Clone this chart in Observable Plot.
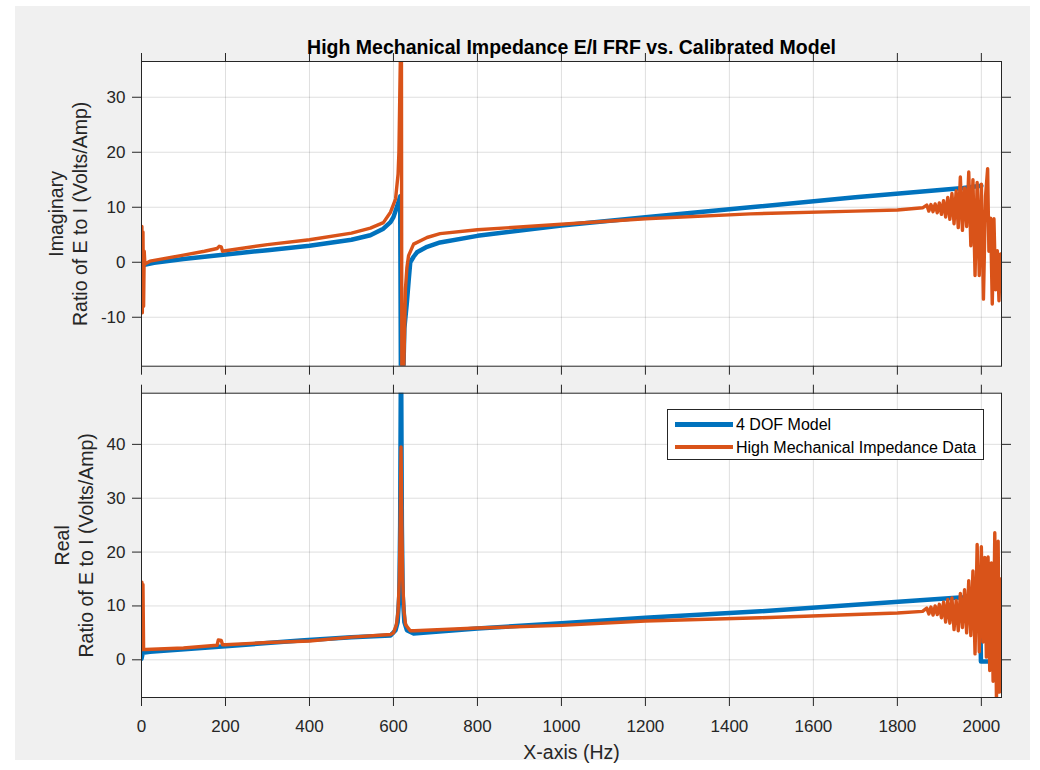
<!DOCTYPE html>
<html>
<head>
<meta charset="utf-8">
<script src="https://cdn.jsdelivr.net/npm/d3@7"></script>
<script src="https://cdn.jsdelivr.net/npm/@observablehq/plot@0.6"></script>
<style>
  html, body { margin: 0; padding: 0; background: #ffffff; }
  body { width: 1040px; height: 770px; position: relative; overflow: hidden;
         font-family: "Liberation Sans", Arial, Helvetica, sans-serif; }
  #fig { position: absolute; left: 15px; top: 6px; width: 1015px; height: 754px; background: #f0f0f0; }
  #top, #bot { position: absolute; left: 0; }
  #top { top: 0; }
  #bot { top: 380px; }
  #legend { position: absolute; left: 666.7px; top: 409.3px; width: 315.3px; height: 48.7px;
            background: #fff; border: 1px solid #262626; }
  .lg-row { position: absolute; left: 0; height: 16px; width: 100%; }
  .lg-sw { position: absolute; left: 7.3px; width: 57.7px; height: 4.5px; }
  .lg-tx { position: absolute; left: 68.3px; top: 0; font-size: 16px; line-height: 16px; color: #000; white-space: nowrap; }
</style>
</head>
<body>
<div id="fig"></div>
<div id="top"></div>
<div id="bot"></div>
<div id="legend"></div>
<script>
// ---------------- data ----------------
const titleText = "High Mechanical Impedance E/I FRF vs. Calibrated Model";
const seriesNames = ["4 DOF Model", "High Mechanical Impedance Data"];
const seriesColors = ["#0072BD", "#D95319"];

const xTicks = [0, 200, 400, 600, 800, 1000, 1200, 1400, 1600, 1800, 2000];
const imagTicks = [-10, 0, 10, 20, 30];
const realTicks = [0, 10, 20, 30, 40];

// Imaginary part, 4 DOF model
const imagModelHz = [0, 10, 30, 100, 200, 300, 400, 500, 545, 576, 593, 600, 608, 613, 616,
  618, 622, 626, 632, 636, 640, 648, 656, 680, 711, 800, 1000, 1200, 1450, 1700, 1957, 2000];
const imagModel = [-0.6, -0.4, -0.1, 0.6, 1.4, 2.2, 3.0, 4.1, 4.9, 6.1, 7.3, 8.2, 10.0, 11.2, 12.0,
  -25, -25, -12, -7.3, -3.5, 0, 1.0, 1.8, 2.8, 3.6, 4.8, 6.7, 8.2, 10.0, 11.8, 13.5, 13.9];

// Imaginary part, measured data
const imagDataHz = [0, 1, 2, 3.5, 5, 6.5, 8, 20, 50, 100, 150, 180, 185, 190, 193, 200,
  300, 400, 500, 545, 576, 593, 605, 611, 613, 615, 617, 619, 620, 623, 625, 628.6, 632, 636,
  648, 680, 711, 800, 1000, 1200, 1450, 1700, 1800, 1860,
  1870, 1875, 1880, 1885, 1890, 1895, 1900, 1905, 1910, 1915, 1920, 1925, 1930, 1935, 1940,
  1945, 1950, 1955, 1960, 1965, 1970, 1975, 1980, 1985, 1990, 1995, 2000,
  2005, 2010, 2015, 2018, 2022, 2026, 2030, 2034, 2038, 2042, 2046, 2048];
const imagData = [0, 6.5, -9.2, 5.5, -8, 2, -0.3, 0.2, 0.6, 1.3, 2.0, 2.5, 2.9, 2.8, 2.0, 2.1,
  3.2, 4.1, 5.3, 6.2, 7.2, 9.1, 11.5, 16, 20, 30, 40, 40, -25, -25, -18, -4.8, -1.0, 1.2,
  3.3, 4.5, 5.2, 5.9, 6.9, 7.9, 8.8, 9.3, 9.5, 9.9,
  10.4, 9.3, 10.5, 9.2, 10.6, 9.0, 10.8, 8.7, 11.2, 8.2, 11.8, 7.8, 12.5, 7.0, 13.0,
  6.3, 15.5, 5.8, 13.5, 6.5, 16.4, 3.0, 15.0, -2.4, 14.5, -2.4, 14.2,
  -6.7, 12.0, 17.0, 2.0, 8.0, -7.6, 7.9, -5, 2.1, -7.0, 1.5, -3];

// Real part, 4 DOF model
const realModelHz = [0, 3, 20, 200, 379, 500, 593, 605, 610, 614, 616, 618, 620, 622, 626,
  632, 648, 800, 1000, 1200, 1474, 1700, 1957, 1997, 1999, 2022];
const realModel = [0.2, 1.3, 1.5, 2.5, 3.6, 4.2, 4.5, 5.5, 7, 12, 25, 60, 25, 12, 7,
  5.5, 4.9, 5.8, 6.8, 7.8, 9.0, 10.2, 11.6, 11.9, -0.3, -0.3];

// Real part, measured data
const realDataHz = [0, 1, 2, 3.5, 5, 10, 100, 180, 183, 190, 193, 200, 300, 400, 500, 593,
  600, 607, 611, 614, 616, 618, 620, 622, 625, 629, 640, 650, 800, 1000, 1200, 1474, 1800, 1860,
  1870, 1875, 1880, 1885, 1890, 1895, 1900, 1905, 1910, 1915, 1920, 1925, 1930, 1935, 1940,
  1945, 1950, 1955, 1960, 1965, 1970, 1975, 1980, 1985, 1990, 1995, 2000,
  2004, 2008, 2012, 2016, 2020, 2024, 2028, 2032, 2036, 2040, 2043, 2046, 2048];
const realData = [1.8, 14.4, 2.0, 14.0, 1.9, 1.9, 2.2, 2.7, 3.7, 3.6, 2.8, 2.8, 3.2, 3.5, 4.2, 4.7,
  5.0, 6.5, 9, 15, 25, 39.5, 25, 15, 9, 6.5, 5.4, 5.4, 5.9, 6.4, 7.2, 7.8, 8.7, 9.0,
  9.6, 8.5, 9.8, 8.3, 10.0, 8.4, 10.3, 7.8, 10.7, 7.0, 11.2, 6.8, 11.5, 5.6, 11.0,
  5.4, 12.3, 6.0, 13.0, 5.0, 14.7, 4.5, 16.5, 1.1, 21.4, 1.5, 21.0,
  3.3, 19.0, 0.5, 19.1, -2.0, 18.0, -4.0, 23.6, -7.5, 22.0, -6.0, 15.0, 5.0];

const xLabel = "X-axis (Hz)";
const imagLabel = ["Imaginary", "Ratio of E to I (Volts/Amp)"];
const realLabel = ["Real", "Ratio of E to I (Volts/Amp)"];

// ---------------- drawing ----------------
const FONT = '"Liberation Sans", Arial, Helvetica, sans-serif';
const AX = "#262626";
const blank = () => "";
const fmt = d => String(d);

function panel({height, mt, mb, yDomain, yTicks, model, modelHz, data, dataHz, ylab, labDx, showX, title}) {
  const marks = [
    Plot.frame({fill: "white", stroke: "none"}),
    Plot.gridX(xTicks, {stroke: AX, strokeOpacity: 0.15}),
    Plot.gridY(yTicks, {stroke: AX, strokeOpacity: 0.15}),
    Plot.line(model, {x: modelHz, y: model, stroke: seriesColors[0], strokeWidth: 4.5, clip: true}),
    Plot.line(data, {x: dataHz, y: data, stroke: seriesColors[1], strokeWidth: 3.4, clip: true}),
    Plot.frame({stroke: AX, strokeWidth: 1}),
    Plot.axisX(xTicks, {anchor: "top", tickSize: 9, tickFormat: blank, label: null, stroke: AX}),
    Plot.axisX(xTicks, {anchor: "bottom", tickSize: 9, tickPadding: 13, label: null, stroke: AX,
      tickFormat: showX ? fmt : blank, fill: AX}),
    Plot.axisY(yTicks, {anchor: "left", tickSize: 9, tickPadding: 7, tickFormat: fmt, label: null, stroke: AX, fill: AX}),
    Plot.axisY(yTicks, {anchor: "right", tickSize: 9, tickFormat: blank, label: null, stroke: AX}),
    Plot.text([ylab[0]], {frameAnchor: "left", textAnchor: "middle", lineAnchor: "middle", dx: labDx[0], rotate: -90, fontSize: 19.5, fill: AX}),
    Plot.text([ylab[1]], {frameAnchor: "left", textAnchor: "middle", lineAnchor: "middle", dx: labDx[1], rotate: -90, fontSize: 19.5, fill: AX})
  ];
  if (showX) {
    marks.push(Plot.text([xLabel], {frameAnchor: "bottom", textAnchor: "middle", dy: 61, fontSize: 19.5, fill: AX}));
  }
  if (title) {
    marks.push(Plot.text([title], {frameAnchor: "top", textAnchor: "middle", dy: -21, fontSize: 19.5, fontWeight: "bold", fill: "#000"}));
  }
  return Plot.plot({
    width: 1040, height,
    marginLeft: 141, marginRight: 39, marginTop: mt, marginBottom: mb,
    style: {background: "transparent", fontFamily: FONT, fontSize: "17px", color: AX, overflow: "visible"},
    x: {domain: [0, 2048], label: null},
    y: {domain: yDomain, label: null},
    marks
  });
}

document.getElementById("top").append(panel({
  height: 380, mt: 61, mb: 14.3, yDomain: [-18.9, 36.5], yTicks: imagTicks,
  model: imagModel, modelHz: imagModelHz, data: imagData, dataHz: imagDataHz,
  ylab: imagLabel, labDx: [-85, -61], showX: false, title: titleText
}));

document.getElementById("bot").append(panel({
  height: 390, mt: 12.7, mb: 73, yDomain: [-7, 49.5], yTicks: realTicks,
  model: realModel, modelHz: realModelHz, data: realData, dataHz: realDataHz,
  ylab: realLabel, labDx: [-78.5, -55], showX: true, title: null
}));

// legend
const legend = document.getElementById("legend");
const rowTops = [6.9, 29.3];
const swTops = [11.8 - 6.9, 34.5 - 29.3];
seriesNames.forEach((name, i) => {
  const row = document.createElement("div");
  row.className = "lg-row";
  row.style.top = rowTops[i] + "px";
  const sw = document.createElement("div");
  sw.className = "lg-sw";
  sw.style.background = seriesColors[i];
  sw.style.top = swTops[i] + "px";
  const tx = document.createElement("div");
  tx.className = "lg-tx";
  tx.textContent = name;
  row.append(sw, tx);
  legend.append(row);
});
</script>
</body>
</html>
